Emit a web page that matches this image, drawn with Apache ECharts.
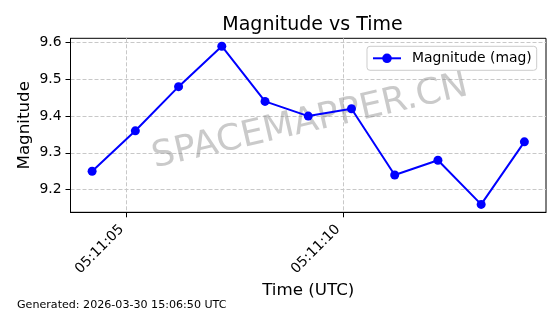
<!DOCTYPE html>
<html>
<head>
<meta charset="utf-8">
<script src="https://cdn.jsdelivr.net/npm/echarts@6/dist/echarts.min.js"></script>
<style>
html,body{margin:0;padding:0;background:#fff;}
#chart{width:560px;height:314px;}
</style>
</head>
<body>
<div id="chart"></div>
<script>
// Data
const times = ['05:11:04.2','05:11:05.2','05:11:06.2','05:11:07.2','05:11:08.2','05:11:09.2',
               '05:11:10.2','05:11:11.2','05:11:12.2','05:11:13.2','05:11:14.2'];
const magnitudes = [9.25, 9.36, 9.48, 9.59, 9.44, 9.40, 9.42, 9.24, 9.28, 9.16, 9.33];
const xTickSeconds = [5, 10];           // 05:11:05, 05:11:10
const yTicks = [9.2, 9.3, 9.4, 9.5, 9.6];
const seriesName = 'Magnitude (mag)';
const titleText = 'Magnitude vs Time';
const footerText = 'Generated: 2026-03-30 15:06:50 UTC';
const watermarkText = 'SPACEMAPPER.CN';

function toSec(t){ const p = t.split(':'); return parseFloat(p[2]) + (parseInt(p[1]) - 11) * 60; }
function fmt(v){ const s = Math.round(v); return '05:11:' + (s < 10 ? '0' + s : '' + s); }

const data = times.map((t, i) => [toSec(t), magnitudes[i]]);
const FONT = 'DejaVu Sans';

const chart = echarts.init(document.getElementById('chart'), null, {renderer: 'canvas'});
chart.setOption({
  animation: false,
  backgroundColor: '#ffffff',
  textStyle: {fontFamily: FONT},
  title: {
    text: titleText, left: 307.5, top: 11, textAlign: 'center',
    textStyle: {fontFamily: FONT, fontSize: 19, fontWeight: 'normal', color: '#000'}
  },
  grid: {left: 70.5, right: 14, top: 38.3, bottom: 101.7, show: true, borderColor: '#000', borderWidth: 1, backgroundColor: 'transparent'},
  legend: {
    right: 23.3, top: 46.3,
    data: [seriesName],
    itemWidth: 28, itemHeight: 12,
    padding: [5, 5, 5, 5],
    borderColor: '#cccccc', borderWidth: 1, borderRadius: 3,
    backgroundColor: 'rgba(255,255,255,0.8)',
    textStyle: {fontFamily: FONT, fontSize: 13.9, color: '#000', padding: [0, 0, 0, 6]}
  },
  xAxis: {
    type: 'value', min: 3.7, max: 14.7,
    name: 'Time (UTC)', nameLocation: 'middle', nameGap: 70, nameMoveOverlap: false,
    nameTextStyle: {fontFamily: FONT, fontSize: 16.7, color: '#000'},
    axisLine: {show: true, lineStyle: {color: '#000', width: 1}},
    axisTick: {show: true, length: 5, lineStyle: {color: '#000', width: 1}, customValues: xTickSeconds},
    axisLabel: {
      customValues: xTickSeconds, rotate: 45, margin: 10, padding: [0, 7, 0, 0],
      fontFamily: FONT, fontSize: 13.9, color: '#000', formatter: v => fmt(v)
    },
    splitLine: {show: true, lineStyle: {color: '#c8c8c8', width: 1, type: [4, 2]}}
  },
  yAxis: {
    type: 'value', min: 9.1385, max: 9.6115,
    name: 'Magnitude', nameLocation: 'middle', nameGap: 37, nameRotate: 90, nameMoveOverlap: false,
    nameTextStyle: {fontFamily: FONT, fontSize: 16.7, color: '#000'},
    axisLine: {show: true, lineStyle: {color: '#000', width: 1}},
    axisTick: {show: true, length: 5, lineStyle: {color: '#000', width: 1}, customValues: yTicks},
    axisLabel: {
      customValues: yTicks, margin: 9,
      fontFamily: FONT, fontSize: 13.9, color: '#000', formatter: v => v.toFixed(1)
    },
    splitLine: {show: true, lineStyle: {color: '#c8c8c8', width: 1, type: [4, 2]}}
  },
  graphic: [
    {
      type: 'text', z: 1, silent: true,
      x: 310, y: 122, rotation: 13 * Math.PI / 180,
      style: {text: watermarkText, fontFamily: FONT, fontSize: 36, fill: 'rgba(128,128,128,0.42)', align: 'center', verticalAlign: 'middle'}
    },
    {
      type: 'text', z: 10, silent: true,
      x: 17, y: 305,
      style: {text: footerText, fontFamily: FONT, fontSize: 11.1, fill: '#000', align: 'left', verticalAlign: 'middle'}
    }
  ],
  series: [{
    name: seriesName, type: 'line', data: data, z: 5,
    symbol: 'circle', symbolSize: 9, showSymbol: true,
    lineStyle: {color: '#0000ff', width: 2},
    itemStyle: {color: '#0000ff'}
  }]
});
</script>
</body>
</html>
